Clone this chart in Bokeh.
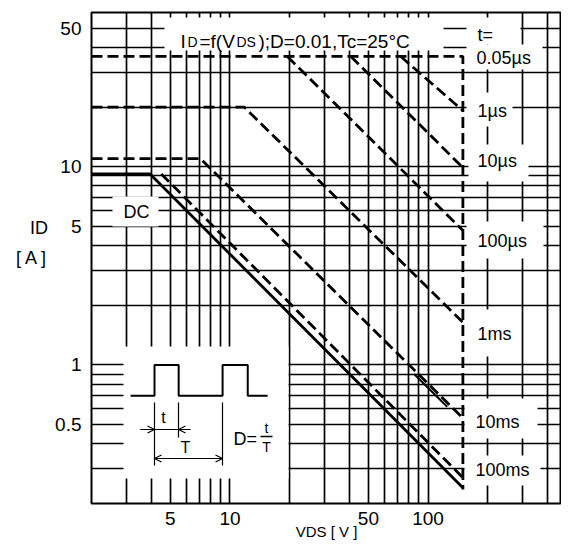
import math
from bokeh.plotting import figure
from bokeh.models import FixedTicker, CustomJSTickFormatter, Arrow, OpenHead
from bokeh.core.properties import value
from bokeh.embed import file_html
from bokeh.resources import INLINE

# ---------------- data ----------------
x_ticks = [5, 10, 50, 100]
y_ticks = [0.5, 1, 5, 10, 50]
x_grid = [3, 4, 5, 6, 7, 8, 9, 10, 20, 30, 40, 50, 60, 70, 80, 90, 100, 200, 300, 400]
y_grid = [0.3, 0.4, 0.5, 0.6, 0.7, 0.8, 0.9, 1, 2, 3, 4, 5, 6, 7, 8, 9, 10, 20, 30, 40, 50]

# t = 0.05 us envelope (current limit + V_DS max)
limit_V = [2, 150, 150]
limit_I = [36, 36, 0.235]
us1_V = [72.8, 150]
us1_I = [36, 19.2]
us10_V = [40.8, 150]
us10_I = [36, 9.9]
us100_V = [19.5, 150]
us100_I = [36, 4.77]
ms1_V = [2, 11.8, 150]
ms1_I = [20, 20, 1.64]
ms10_V = [2, 7.1, 150]
ms10_I = [11, 11, 0.54]
ms10_seg_V = [85, 125]
ms10_seg_I = [0.90, 0.615]
ms100_V = [4.5, 150]
ms100_I = [9.2, 0.27]
dc_V = [2, 3.95, 150]
dc_I = [9.2, 9.2, 0.24]

t_labels = ["t=", "0.05µs", "1µs", "10µs", "100µs", "1ms", "10ms", "100ms"]

# pulse sketch of the inset (V, A coordinates)
pulse_V = [3.15, 4.16, 4.16, 5.51, 5.51, 9.18, 9.18, 12.3, 12.3, 15.5]
pulse_I = [0.70, 0.70, 1.0, 1.0, 0.70, 0.70, 1.0, 1.0, 0.70, 0.70]

# ---------------- layout ----------------
W, H = 561, 544
BL, BR, BT, BB = 91, 0, 12, 41
FL, FT = BL, BT
FW, FH = W - BL - BR, H - BT - BB
X0, Y0, Y1 = 2, 0.2, 60
X1 = X0 * 10 ** (FW / 198.07)


def px2v(px):
    return 10 ** (math.log10(X0) + (px - FL) / FW * math.log10(X1 / X0))


def py2i(py):
    return 10 ** (math.log10(Y1) - (py - FT) / FH * math.log10(Y1 / Y0))


FONT = "Liberation Sans"

p = figure(width=W, height=H, x_axis_type="log", y_axis_type="log",
           x_range=(X0, X1), y_range=(Y0, Y1),
           output_backend="svg", toolbar_location=None,
           min_border_left=BL, min_border_right=BR,
           min_border_top=BT, min_border_bottom=BB)
p.background_fill_color = "white"
p.border_fill_color = "white"
p.outline_line_color = "black"
p.outline_line_width = 2

fmt = CustomJSTickFormatter(code="return tick.toString();")
for ax, ticks in ((p.xaxis[0], x_ticks), (p.yaxis[0], y_ticks)):
    ax.ticker = FixedTicker(ticks=ticks)
    ax.formatter = fmt
    ax.axis_line_color = None
    ax.major_tick_line_color = None
    ax.minor_tick_line_color = None
    ax.major_tick_out = 0
    ax.major_tick_in = 0
    ax.minor_tick_out = 0
    ax.minor_tick_in = 0
    ax.major_label_text_font = FONT
    ax.major_label_text_font_size = "19px"
    ax.major_label_text_color = "black"
    ax.axis_label_text_font = FONT
    ax.axis_label_text_font_style = "normal"
    ax.axis_label_text_color = "black"
p.xaxis.major_label_standoff = 8
p.yaxis.major_label_standoff = 10

p.xaxis.axis_label = "VDS [ V ]"
p.xaxis.axis_label_text_font_size = "15px"
p.xaxis.axis_label_standoff = -5

p.yaxis.axis_label = "ID\n[ A ]\n "
p.yaxis.axis_label_orientation = "horizontal"
p.yaxis.axis_label_text_font_size = "18px"
p.yaxis.axis_label_text_line_height = 1.5
p.yaxis.axis_label_standoff = 4

p.xgrid.ticker = FixedTicker(ticks=x_grid)
p.ygrid.ticker = FixedTicker(ticks=y_grid)
for g in (p.xgrid[0], p.ygrid[0]):
    g.grid_line_color = "#000000"
    g.grid_line_width = 1.7
    g.minor_grid_line_color = None

# white boxes behind texts (pixel boxes -> data)
boxes = [
    (164, 443, 17, 50),   # title
    (466, 520, 17, 44),   # t=
    (466, 542, 44, 69),   # 0.05us
    (466, 512, 92, 126),  # 1us
    (468, 528, 144, 181),  # 10us
    (466, 543, 221, 258),  # 100us
    (466, 515, 309, 356),  # 1ms
    (464, 537, 398, 438),  # 10ms
    (464, 540, 455, 485),  # 100ms
    (112, 158, 196, 226),  # DC
    (123, 288, 346, 478),  # inset
]
p.quad(left=[px2v(b[0]) for b in boxes], right=[px2v(b[1]) for b in boxes],
       top=[py2i(b[2]) for b in boxes], bottom=[py2i(b[3]) for b in boxes],
       fill_color="white", line_color=None)

# ---------------- curves ----------------
LW = 2.8
DASH = "11 5"
p.line(limit_V, limit_I, line_color="black", line_width=LW, line_dash=DASH)
for vv, ii in ((us1_V, us1_I), (us10_V, us10_I), (us100_V, us100_I),
               (ms1_V, ms1_I), (ms10_V, ms10_I), (ms100_V, ms100_I)):
    p.line(vv, ii, line_color="black", line_width=LW, line_dash=DASH)
p.line(ms10_seg_V, ms10_seg_I, line_color="black", line_width=2)
p.line(dc_V, dc_I, line_color="black", line_width=LW)

# ---------------- texts inside the plot ----------------
lab_px = [(477, 34), (476, 57), (477, 110), (477, 160), (477, 240),
          (477, 333), (475, 421), (475, 469)]
p.text(x=[px2v(a) for a, b in lab_px], y=[py2i(b) for a, b in lab_px], text=t_labels,
       text_font=value(FONT), text_font_size=value("18px"), text_color="black",
       text_align="left", text_baseline="middle")
p.text(x=[px2v(123)], y=[py2i(211)], text=["DC"],
       text_font=value(FONT), text_font_size=value("18px"), text_color="black",
       text_align="left", text_baseline="middle")

# title with subscripts
title_parts = [("I", 180, "19px"), ("D", 187, "14px"), ("=f(V", 199, "19px"),
               ("DS", 236, "14px"), (");D=0.01,Tc=25°C", 258, "19px")]
for txt, xp, fs in title_parts:
    p.text(x=[px2v(xp)], y=[py2i(41)], text=[txt], text_font=value(FONT),
           text_font_size=value(fs), text_color="black",
           text_align="left", text_baseline="alphabetic")

# ---------------- inset pulse diagram ----------------
p.line(pulse_V, pulse_I, line_color="black", line_width=2)
p.segment(x0=[px2v(154), px2v(178), px2v(222), px2v(140)],
          y0=[py2i(402), py2i(402), py2i(402), py2i(429)],
          x1=[px2v(154), px2v(178), px2v(222), px2v(190)],
          y1=[py2i(465), py2i(437), py2i(465), py2i(429)],
          line_color="black", line_width=1.2)
head = dict(size=7, line_width=1.2, line_color="black")
p.add_layout(Arrow(end=OpenHead(**head), x_start=px2v(140), y_start=py2i(429),
                   x_end=px2v(154), y_end=py2i(429), line_width=1.2))
p.add_layout(Arrow(end=OpenHead(**head), x_start=px2v(190), y_start=py2i(429),
                   x_end=px2v(178), y_end=py2i(429), line_width=1.2))
p.add_layout(Arrow(start=OpenHead(**head), end=OpenHead(**head),
                   x_start=px2v(154), y_start=py2i(458),
                   x_end=px2v(222), y_end=py2i(458), line_width=1.2))
p.text(x=[px2v(163), px2v(185)], y=[py2i(417), py2i(447)], text=["t", "T"],
       text_font=value(FONT), text_font_size=value("16px"), text_color="black",
       text_align="center", text_baseline="middle")
p.text(x=[px2v(233)], y=[py2i(438)], text=["D="],
       text_font=value(FONT), text_font_size=value("18px"), text_color="black",
       text_align="left", text_baseline="middle")
p.text(x=[px2v(266), px2v(266)], y=[py2i(427), py2i(446)], text=["t", "T"],
       text_font=value(FONT), text_font_size=value("14px"), text_color="black",
       text_align="center", text_baseline="middle")
p.segment(x0=[px2v(260)], y0=[py2i(436)], x1=[px2v(272)], y1=[py2i(436)],
          line_color="black", line_width=1.3)

open("out.html", "w").write(file_html(p, INLINE))
